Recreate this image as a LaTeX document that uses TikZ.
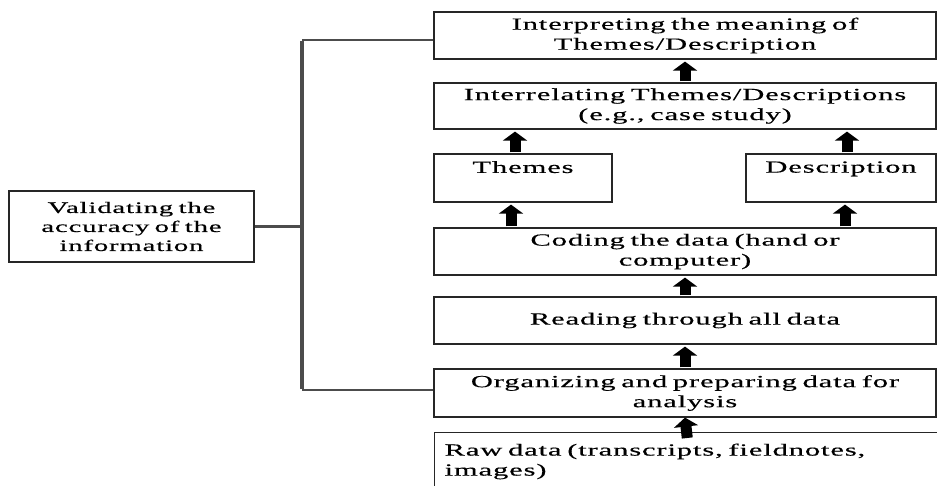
\documentclass[tikz,border=0pt]{standalone}
\usepackage{fontspec}
\setmainfont{Liberation Serif}[FakeStretch=1.8,LetterSpace=5,FakeBold=0.4]
\usepackage{tikz}
\usetikzlibrary{arrows.meta,positioning,calc}
\tikzset{
  stage/.style={draw=black!85,line width=1.2pt,fill=white,align=center,
                font=\fontsize{17pt}{20pt}\selectfont,inner sep=2pt,minimum height=47pt},
  stageW/.style={stage,minimum width=502pt,text width=494pt},
  stageS/.style={stage,text depth=22pt,minimum height=48pt},
  flowarr/.style={-{Triangle[width=24pt,length=9pt]},line width=11pt,
                  shorten >=2pt,shorten <=1pt},
  bracket/.style={draw=black!70,line width=2.4pt},
}

\begin{document}
\begin{tikzpicture}[x=1pt,y=-1pt]
  \clip (0,0) rectangle (937,485);
  % main column of stages, bottom to top
  \node[stageW,minimum height=62pt,align=left,anchor=north west,text depth=28pt,
        text width=484pt,inner xsep=10pt] (raw) at (434,432)
    {Raw data (transcripts, fieldnotes,\\images)};
  \node[stageW,minimum height=48pt] (organ) at (685,393) {Organizing and preparing data for\\analysis};
  \node[stageW] (reading) at (685,320.5) {Reading through all data};
  \node[stageW] (coding) at (685,251.5) {Coding the data (hand or\\computer)};
  \node[stageS,minimum width=178pt] (themes) at (523,178) {Themes};
  \node[stageS,minimum width=190pt] (descr) at (841,178) {Description};
  \node[stageW,minimum height=46pt] (interrel) at (685,106) {Interrelating Themes/Descriptions\\(e.g., case study)};
  \node[stageW] (interp) at (685,35.5) {Interpreting the meaning of\\Themes/Description};
  \node[stage,minimum width=245pt,minimum height=71pt,text width=235pt,
        font=\fontsize{16pt}{19pt}\selectfont] (valid) at (131.5,226.5)
    {Validating the\\accuracy of the\\information};

  \draw[flowarr,shorten <=-6pt,shorten >=0pt] (raw.north) -- (organ.south);
  \draw[flowarr] (organ.north) -- (reading.south);
  \draw[flowarr] (reading.north) -- (coding.south);
  \draw[flowarr] ([xshift=-12pt]coding.north -| themes.south) -- ([xshift=-12pt]themes.south);
  \draw[flowarr] ([xshift=4pt]coding.north -| descr.south) -- ([xshift=4pt]descr.south);
  \draw[flowarr] ([xshift=-8pt]themes.north) -- ([xshift=-8pt]interrel.south -| themes.north);
  \draw[flowarr] ([xshift=6pt]descr.north) -- ([xshift=6pt]interrel.south -| descr.north);
  \draw[flowarr] (interrel.north) -- (interp.south);

  % validation bracket
  \coordinate (bt) at (302,40);
  \coordinate (bb) at (302,390);
  \draw[bracket] (bt -| interp.west) -- (bt);
  \draw[bracket] (bb) -- (bb -| organ.west);
  \draw[bracket,line width=3.5pt] ([yshift=-1.2pt]bt) -- ([yshift=1.2pt]bb);
  \draw[bracket] (valid.east) -- (valid.east -| bt);
\end{tikzpicture}
\end{document}
